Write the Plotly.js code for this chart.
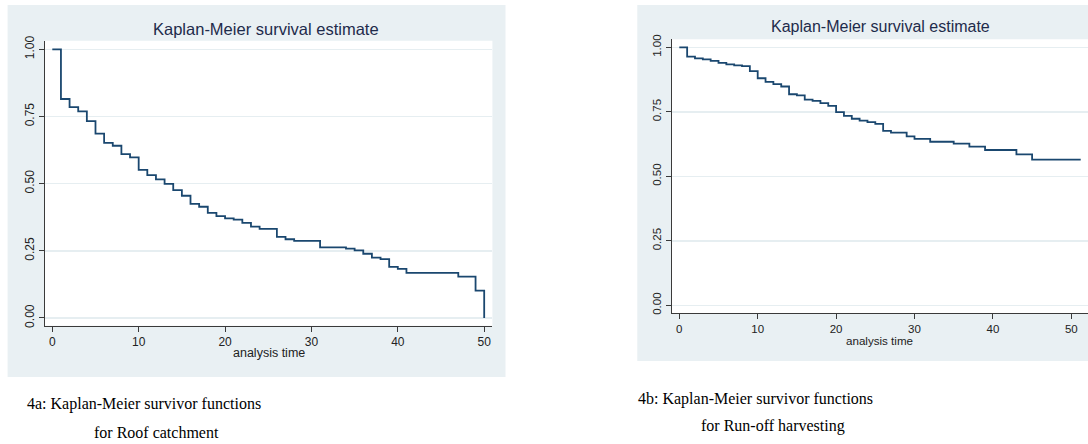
<!DOCTYPE html>
<html>
<head>
<meta charset="utf-8">
<script src="https://cdn.plot.ly/plotly-3.0.1.min.js"></script>
<style>html,body{margin:0;padding:0;background:#fff;}#chart{width:1088px;height:444px;}</style>
</head>
<body>
<div id="chart"></div>
<script>
// ---- data ----
const leftTimes = [0,1,2,3,4,5,6,7,8,9,10,11,12,13,14,15,16,17,18,19,20,21,22,23,24,26,27,28,31,34,35,36,37,38,39,40,41,47,49,50];
const leftSurv  = [1.0,0.815,0.785,0.769,0.733,0.686,0.652,0.641,0.610,0.598,0.551,0.532,0.516,0.499,0.476,0.455,0.425,0.414,0.391,0.379,0.371,0.366,0.354,0.340,0.332,0.302,0.293,0.287,0.263,0.258,0.252,0.239,0.225,0.219,0.190,0.183,0.168,0.154,0.102,0.0];
const rightTimes = [0,1,2,3,4,5,6,7,8,9,10,11,12,13,14,15,16,17,18,19,20,21,22,23,24,25,26,27,29,30,32,35,37,39,43,45,51.2];
const rightSurv  = [1.0,0.964,0.957,0.953,0.947,0.940,0.934,0.930,0.927,0.908,0.880,0.866,0.857,0.848,0.818,0.814,0.797,0.792,0.784,0.773,0.749,0.734,0.723,0.716,0.710,0.703,0.676,0.669,0.655,0.645,0.634,0.627,0.615,0.602,0.585,0.565,0.565];
const xTickVals = [0,10,20,30,40,50];
const yTickVals = [0,0.25,0.5,0.75,1];
const yTickText = ['0.00','0.25','0.50','0.75','1.00'];
const panelTitle = 'Kaplan-Meier survival estimate';
const xTitle = 'analysis time';
const captionLeft = ['4a: Kaplan-Meier survivor functions','for Roof catchment'];
const captionRight = ['4b: Kaplan-Meier survivor functions','for Run-off harvesting'];

// ---- geometry helpers (pixels -> paper fractions) ----
const W = 1088, H = 444;
const fx = x => x / W;
const fy = y => 1 - y / H;

const lineColor = '#1a476f';
const axisColor = '#3a3a3a';
const gridColor = '#e6eef1';
const panelBg = '#e9f0f3';
const sans = 'Liberation Sans, Arial, sans-serif';
const serif = 'Liberation Serif, Times New Roman, serif';

const traces = [
  {x: leftTimes, y: leftSurv, type: 'scatter', mode: 'lines', line: {shape: 'hv', color: lineColor, width: 1.8}, xaxis: 'x', yaxis: 'y', hoverinfo: 'skip'},
  {x: rightTimes, y: rightSurv, type: 'scatter', mode: 'lines', line: {shape: 'hv', color: lineColor, width: 1.8}, xaxis: 'x2', yaxis: 'y2', hoverinfo: 'skip'}
];

function xAxis(dom, rng, anchor, fs) {
  return {domain: dom, range: rng, anchor: anchor, tickmode: 'array', tickvals: xTickVals,
    showline: true, linecolor: axisColor, linewidth: 1, ticks: 'outside', ticklen: 5, tickwidth: 1, tickcolor: axisColor,
    showgrid: false, zeroline: false, tickfont: {family: sans, size: fs, color: '#222'}, fixedrange: true};
}
function yAxis(dom, rng, anchor, fs) {
  return {domain: dom, range: rng, anchor: anchor, tickmode: 'array', tickvals: yTickVals, ticktext: yTickText, tickangle: -90,
    showline: true, linecolor: axisColor, linewidth: 1, ticks: 'outside', ticklen: 5, tickwidth: 1, tickcolor: axisColor,
    showgrid: true, gridcolor: gridColor, gridwidth: 1.5, zeroline: false, tickfont: {family: sans, size: fs, color: '#222'}, fixedrange: true};
}

function rect(x0, y0, x1, y1, color) {
  return {type: 'rect', xref: 'paper', yref: 'paper', x0: fx(x0), x1: fx(x1), y0: fy(y1), y1: fy(y0), fillcolor: color, line: {width: 0}, layer: 'below'};
}
function ann(text, x, y, size, color, family) {
  return {text: text, xref: 'paper', yref: 'paper', x: fx(x), y: fy(y), xanchor: 'center', yanchor: 'middle', showarrow: false, font: {family: family, size: size, color: color}};
}

const layout = {
  width: W, height: H, margin: {l: 0, r: 0, t: 0, b: 0},
  paper_bgcolor: '#ffffff', plot_bgcolor: 'rgba(0,0,0,0)', showlegend: false,
  xaxis: xAxis([fx(44.8), fx(492.4)], [-0.868, 50.95], 'y', 12),
  yaxis: yAxis([fy(325.7), fy(40.7)], [-0.0287, 1.032], 'x', 12),
  xaxis2: xAxis([fx(671.7), 1], [-0.97, 52.13], 'y2', 11.5),
  yaxis2: yAxis([fy(313.3), fy(39.3)], [-0.031, 1.031], 'x2', 11.5),
  shapes: [
    rect(7.6, 5, 505.5, 377, panelBg),
    rect(44.8, 40.7, 492.4, 325.7, '#ffffff'),
    rect(637.3, 5, 1088, 361, panelBg),
    rect(671.7, 39.3, 1088, 313.3, '#ffffff')
  ],
  annotations: [
    ann(panelTitle, 266, 29.3, 16.5, '#1e2b4b', sans),
    ann(panelTitle, 880, 26.7, 16, '#1e2b4b', sans),
    ann(xTitle, 268.6, 353.3, 12.5, '#222', sans),
    ann(xTitle, 879.4, 340, 11.6, '#222', sans),
    ann(captionLeft[0], 144, 404, 16, '#000', serif),
    ann(captionLeft[1], 156, 432, 16, '#000', serif),
    ann(captionRight[0], 755, 399, 16, '#000', serif),
    ann(captionRight[1], 773, 426, 16, '#000', serif)
  ]
};

Plotly.newPlot('chart', traces, layout, {displayModeBar: false, staticPlot: true});
</script>
</body>
</html>
